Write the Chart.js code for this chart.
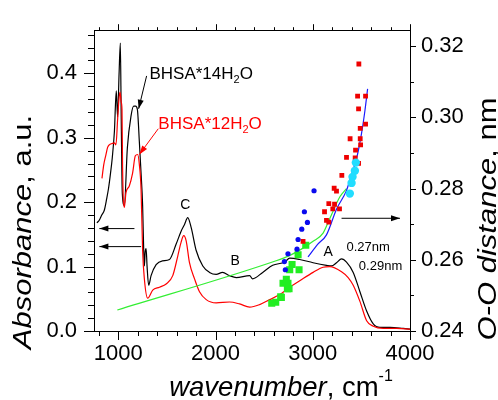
<!DOCTYPE html>
<html>
<head>
<meta charset="utf-8">
<script src="https://cdn.jsdelivr.net/npm/chart.js@4.4.1/dist/chart.umd.min.js"></script>
<style>
  html, body { margin: 0; padding: 0; background: #fff; }
  #wrap { width: 498px; height: 400px; }
</style>
</head>
<body>
<div id="wrap"><canvas id="ir"></canvas></div>
<script>
// axis ticks
const wavenumberTicks = [1000, 2000, 3000, 4000];
const absorbanceTicks = [0, 0.1, 0.2, 0.3, 0.4];
const distanceTicks = [0.24, 0.26, 0.28, 0.30, 0.32];

// IR spectra: [wavenumber, absorbance]
const bhsa14 = [
  [780, 0.168], [804, 0.172], [830, 0.180], [856, 0.1875], [880, 0.205], [900, 0.222],
  [920, 0.245], [938, 0.269], [960, 0.31], [979, 0.373], [993, 0.332], [1008, 0.40],
  [1021, 0.447], [1030, 0.33], [1041, 0.214], [1062, 0.195], [1093, 0.284], [1131, 0.334],
  [1158, 0.349], [1178, 0.349], [1196, 0.344], [1216, 0.295], [1234, 0.245], [1250, 0.195],
  [1262, 0.12], [1268, 0.101], [1276, 0.122], [1286, 0.128], [1296, 0.10], [1312, 0.071],
  [1337, 0.086], [1389, 0.103], [1454, 0.109], [1526, 0.111], [1595, 0.135], [1646, 0.155],
  [1680, 0.165], [1714, 0.176], [1749, 0.161], [1801, 0.125], [1869, 0.101], [1938, 0.091],
  [2007, 0.088], [2072, 0.091], [2144, 0.086], [2213, 0.083], [2351, 0.086], [2381, 0.081],
  [2485, 0.091], [2588, 0.102], [2711, 0.107], [2763, 0.113], [2866, 0.111], [3003, 0.106],
  [3141, 0.102], [3193, 0.101], [3244, 0.106], [3296, 0.112], [3347, 0.107], [3416, 0.091],
  [3485, 0.061], [3554, 0.031], [3622, 0.011], [3691, 0.0055], [3794, 0.0055], [3931, 0.004],
  [4000, 0.003]
];
const bhsa12 = [
  [832, 0.237], [850, 0.258], [873, 0.274], [890, 0.285], [907, 0.289], [935, 0.291],
  [959, 0.292], [976, 0.289], [993, 0.329], [1008, 0.362], [1018, 0.371], [1030, 0.355],
  [1038, 0.344], [1044, 0.254], [1062, 0.192], [1079, 0.215], [1113, 0.225], [1147, 0.245],
  [1175, 0.272], [1199, 0.274], [1216, 0.259], [1234, 0.220], [1250, 0.125], [1268, 0.081],
  [1302, 0.051], [1354, 0.0635], [1423, 0.068], [1492, 0.073], [1560, 0.086], [1611, 0.116],
  [1646, 0.138], [1673, 0.148], [1698, 0.140], [1732, 0.106], [1784, 0.081], [1835, 0.061],
  [1904, 0.0487], [2007, 0.0436], [2144, 0.045], [2247, 0.042], [2351, 0.037], [2454, 0.041],
  [2557, 0.0487], [2660, 0.0565], [2763, 0.068], [2866, 0.078], [3003, 0.091], [3106, 0.099],
  [3175, 0.100], [3296, 0.092], [3364, 0.083], [3416, 0.071], [3485, 0.046], [3554, 0.016],
  [3622, 0.0074], [3725, 0.004], [3863, 0.004], [4000, 0.003]
];

// O-O distance vs stretching frequency: [wavenumber, nm]
const greenFit = [
  [990, 0.2459], [2608, 0.2596], [2754, 0.2611], [2883, 0.2630], [3003, 0.2652],
  [3106, 0.2675], [3175, 0.2716], [3279, 0.2777], [3347, 0.2800]
];
const blueFit = [
  [2951, 0.2608], [3052, 0.2644], [3141, 0.2670], [3244, 0.2742], [3347, 0.2795],
  [3399, 0.2840], [3450, 0.2884], [3502, 0.2956], [3536, 0.3018], [3564, 0.3080]
];
const redPoints = [
  [3474, 0.3150], [3461, 0.3060], [3543, 0.3060], [3471, 0.3024], [3543, 0.2981],
  [3488, 0.2969], [3384, 0.2940], [3488, 0.2940], [3492, 0.2923], [3440, 0.2908],
  [3347, 0.2888], [3436, 0.2886], [3471, 0.2871], [3299, 0.2837], [3220, 0.2801],
  [3244, 0.2793], [3165, 0.2758], [3224, 0.2756], [3206, 0.2743], [3275, 0.2743],
  [3121, 0.2735], [3141, 0.2711], [3165, 0.2706], [2900, 0.2652]
];
const bluePoints = [
  [3013, 0.2794], [2914, 0.2735], [2945, 0.2705], [2887, 0.2686], [2849, 0.2657],
  [2838, 0.2630], [2745, 0.2617], [2708, 0.2595], [2718, 0.2572]
];
const greenPoints = [
  [2928, 0.2641], [2849, 0.2614], [2787, 0.2587], [2859, 0.2572], [2763, 0.2572],
  [2694, 0.2534], [2745, 0.2534], [2739, 0.2519], [2677, 0.2494], [2728, 0.2545],
  [2670, 0.2496], [2619, 0.2481], [2578, 0.2478], [2756, 0.2519]
];
const cyanPoints = [
  [3443, 0.2873], [3433, 0.2850], [3409, 0.2833], [3399, 0.2816], [3381, 0.2786]
];

const xy = (arr) => arr.map(([x, y]) => ({ x, y }));

// annotations in data units (left axis)
const labels = [
  { text: "C", x: 1690, y: 0.195, size: 14, color: "#000" },
  { text: "B", x: 2203, y: 0.108, size: 14, color: "#000" },
  { text: "A", x: 3158, y: 0.123, size: 14, color: "#000" },
  { text: "0.27nm", x: 3347, y: 0.129, size: 13, color: "#000", align: "left" },
  { text: "0.29nm", x: 3474, y: 0.100, size: 13, color: "#000", align: "left" }
];
const arrows = [
  { from: [1166, 0.159], to: [805, 0.159], color: "#000" },
  { from: [1234, 0.131], to: [805, 0.131], color: "#000" },
  { from: [3296, 0.175], to: [3897, 0.175], color: "#000" },
  { from: [1291, 0.396], to: [1209, 0.345], color: "#000" },
  { from: [1411, 0.314], to: [1216, 0.274], color: "#f00" }
];
const compounds = [
  { name: "BHSA*14H", sub: "2", tail: "O", x: 1320, y: 0.391, color: "#000" },
  { name: "BHSA*12H", sub: "2", tail: "O", x: 1412, y: 0.314, color: "#f00" }
];

const FONT = "'Liberation Sans', Arial, sans-serif";

function arrowHead(ctx, x0, y0, x1, y1) {
  const a = Math.atan2(y1 - y0, x1 - x0);
  const len = 9, w = 3;
  ctx.beginPath();
  ctx.moveTo(x1, y1);
  ctx.lineTo(x1 - len * Math.cos(a) + w * Math.sin(a), y1 - len * Math.sin(a) - w * Math.cos(a));
  ctx.lineTo(x1 - len * Math.cos(a) - w * Math.sin(a), y1 - len * Math.sin(a) + w * Math.cos(a));
  ctx.closePath();
  ctx.fill();
}

// axis title made of italic / plain / superscript pieces, centred on (cx, cy)
function drawTitle(ctx, parts, cx, cy, rot, size, squeeze) {
  ctx.save();
  ctx.translate(cx, cy);
  ctx.rotate(rot);
  ctx.scale(1, squeeze);
  ctx.textBaseline = "middle";
  ctx.textAlign = "left";
  ctx.fillStyle = "#000";
  const fontOf = (p) => (p.italic ? "italic " : "") + (p.size || size) + "px " + FONT;
  let total = 0;
  parts.forEach((p) => { ctx.font = fontOf(p); total += ctx.measureText(p.t).width; });
  let x = -total / 2;
  parts.forEach((p) => {
    ctx.font = fontOf(p);
    ctx.fillText(p.t, x, p.dy || 0);
    x += ctx.measureText(p.t).width;
  });
  ctx.restore();
}

// frame, ticks on four sides, axis titles, labels and arrows
const framePlugin = {
  id: "frame",
  afterDatasetsDraw(chart) {
    const { ctx, chartArea: a, scales } = chart;
    const X = scales.x, Y = scales.y, R = scales.y2;
    ctx.save();
    ctx.strokeStyle = "#000";
    ctx.fillStyle = "#000";
    ctx.lineWidth = 1;
    ctx.strokeRect(Math.round(a.left) + 0.5, Math.round(a.top) + 0.5,
      Math.round(a.right - a.left), Math.round(a.bottom - a.top));

    ctx.beginPath();
    for (let v = 800; v <= 4000; v += 200) {
      const px = Math.round(X.getPixelForValue(v)) + 0.5;
      const major = v % 1000 === 0;
      ctx.moveTo(px, a.bottom);
      ctx.lineTo(px, a.bottom + (major ? 9 : 5));
      ctx.moveTo(px, a.top);
      ctx.lineTo(px, a.top - (major ? 6 : 3));
    }
    for (let i = 0; i <= 23; i++) {
      const py = Math.round(Y.getPixelForValue(i * 0.02)) + 0.5;
      const major = i % 5 === 0;
      ctx.moveTo(a.left, py);
      ctx.lineTo(a.left - (major ? 10 : 6), py);
    }
    for (let i = 0; i <= 8; i++) {
      const py = Math.round(R.getPixelForValue(0.24 + i * 0.01)) + 0.5;
      const major = i % 2 === 0;
      ctx.moveTo(a.right, py);
      ctx.lineTo(a.right + (major ? 6 : 4), py);
    }
    ctx.stroke();

    // arrows
    arrows.forEach((ar) => {
      const x0 = X.getPixelForValue(ar.from[0]), y0 = Y.getPixelForValue(ar.from[1]);
      const x1 = X.getPixelForValue(ar.to[0]), y1 = Y.getPixelForValue(ar.to[1]);
      ctx.strokeStyle = ar.color;
      ctx.fillStyle = ar.color;
      ctx.beginPath();
      ctx.moveTo(x0, y0);
      ctx.lineTo(x1, y1);
      ctx.stroke();
      arrowHead(ctx, x0, y0, x1, y1);
    });

    // peak letters and distances
    ctx.textBaseline = "middle";
    labels.forEach((l) => {
      ctx.font = l.size + "px " + FONT;
      ctx.fillStyle = l.color;
      ctx.textAlign = l.align || "center";
      ctx.fillText(l.text, X.getPixelForValue(l.x), Y.getPixelForValue(l.y));
    });

    // compound names with subscript
    ctx.textAlign = "left";
    ctx.textBaseline = "alphabetic";
    compounds.forEach((c) => {
      let px = X.getPixelForValue(c.x);
      const py = Y.getPixelForValue(c.y);
      ctx.fillStyle = c.color;
      ctx.font = "17px " + FONT;
      ctx.fillText(c.name, px, py);
      px += ctx.measureText(c.name).width;
      ctx.font = "11px " + FONT;
      ctx.fillText(c.sub, px, py + 4);
      px += ctx.measureText(c.sub).width;
      ctx.font = "17px " + FONT;
      ctx.fillText(c.tail, px, py);
    });
    ctx.restore();

    // axis titles
    drawTitle(ctx, [{ t: "Absorbance", italic: true }, { t: ", a.u." }], 24, 232, -Math.PI / 2, 31, 0.85);
    drawTitle(ctx, [{ t: "O-O distance", italic: true }, { t: ", nm" }], 489, 219, -Math.PI / 2, 31, 0.85);
    drawTitle(ctx, [{ t: "wavenumber", italic: true }, { t: ", cm" }, { t: "-1", size: 16, dy: -11 }], 281, 388, 0, 27.5, 1);
  }
};

new Chart(document.getElementById("ir"), {
  type: "line",
  data: {
    datasets: [
      { data: xy(bhsa14), yAxisID: "y", borderColor: "#000", borderWidth: 1.2,
        pointRadius: 0, cubicInterpolationMode: "monotone", order: 9 },
      { data: xy(bhsa12), yAxisID: "y", borderColor: "#f00", borderWidth: 1.2,
        pointRadius: 0, cubicInterpolationMode: "monotone", order: 8 },
      { data: xy(greenFit), yAxisID: "y2", borderColor: "#33ee33", borderWidth: 1.2,
        pointRadius: 0, cubicInterpolationMode: "monotone", order: 7 },
      { data: xy(blueFit), yAxisID: "y2", borderColor: "#1a1aff", borderWidth: 1.2,
        pointRadius: 0, cubicInterpolationMode: "monotone", order: 6 },
      { data: xy(greenPoints), yAxisID: "y2", showLine: false, pointStyle: "rect",
        pointRadius: 5, backgroundColor: "#22ee22", borderWidth: 0, order: 5 },
      { data: xy(redPoints), yAxisID: "y2", showLine: false, pointStyle: "rect",
        pointRadius: 3.4, backgroundColor: "#ee0000", borderWidth: 0, order: 4 },
      { data: xy(bluePoints), yAxisID: "y2", showLine: false, pointStyle: "circle",
        pointRadius: 2.6, backgroundColor: "#0a0aee", borderWidth: 0, order: 3 },
      { data: xy(cyanPoints), yAxisID: "y2", showLine: false, pointStyle: "circle",
        pointRadius: 4.2, backgroundColor: "#22ddff", borderWidth: 0, order: 2 }
    ]
  },
  options: {
    responsive: true,
    maintainAspectRatio: false,
    animation: false,
    layout: { padding: { top: 17, left: 0, right: 0, bottom: 0 } },
    plugins: { legend: { display: false }, tooltip: { enabled: false } },
    scales: {
      x: {
        type: "linear", position: "bottom", min: 750, max: 4000,
        grid: { display: false, drawTicks: false }, border: { display: false },
        afterBuildTicks: (s) => { s.ticks = wavenumberTicks.map((v) => ({ value: v })); },
        afterFit: (s) => { s.height = 69; },
        ticks: { padding: 10, color: "#000", font: { family: FONT, size: 22 }, maxRotation: 0,
          callback: (v) => String(v) }
      },
      y: {
        type: "linear", position: "left", min: 0, max: 0.467,
        grid: { display: false, drawTicks: false }, border: { display: false },
        afterBuildTicks: (s) => { s.ticks = absorbanceTicks.map((v) => ({ value: v })); },
        afterFit: (s) => { s.width = 94; },
        ticks: { padding: 17, color: "#000", font: { family: FONT, size: 22 },
          callback: (v) => v.toFixed(1) }
      },
      y2: {
        type: "linear", position: "right", min: 0.24, max: 0.3245,
        grid: { display: false, drawTicks: false }, border: { display: false },
        afterBuildTicks: (s) => { s.ticks = distanceTicks.map((v) => ({ value: v })); },
        afterFit: (s) => { s.width = 88; },
        ticks: { padding: 11, color: "#000", font: { family: FONT, size: 22 },
          callback: (v) => v.toFixed(2) }
      }
    }
  },
  plugins: [framePlugin]
});
</script>
</body>
</html>
